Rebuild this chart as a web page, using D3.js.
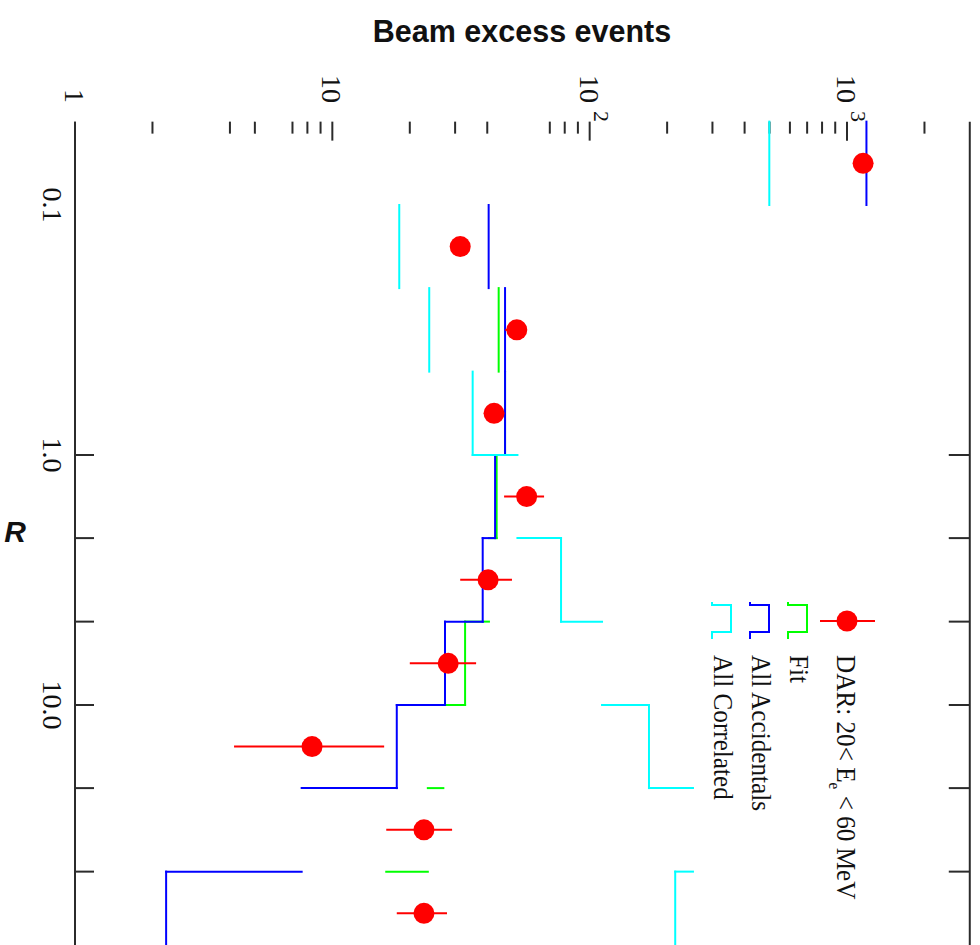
<!DOCTYPE html>
<html>
<head>
<meta charset="utf-8">
<script src="https://cdn.jsdelivr.net/npm/d3@7"></script>
<style>
  html, body { margin: 0; padding: 0; background: #fff; }
  svg { display: block; }
</style>
</head>
<body>
<svg id="chart" width="980" height="945"></svg>
<script>
// R bins, three per decade
const binEdges = [0.0464, 0.1, 0.215, 0.464, 1, 2.15, 4.64, 10, 21.5, 46.4, 100];

// DAR beam-excess events, 20 < Ee < 60 MeV, with lower / upper error limits
const darValues = [1155, 31.4, 52.1, 42.5, 56.9, 40.3, 28.2, 8.34, 22.7, 22.7];
const darLow    = [1125, 30.0, 47.0, 40.5, 46.5, 31.4, 20.0, 4.15, 16.2, 17.8];
const darHigh   = [1185, 33.0, 57.0, 44.5, 66.5, 49.9, 36.2, 15.9, 29.2, 27.9];

// Histogram contents per R bin
const fitValues        = [null, null, 44.3, 46.9, 43.5, 40.6, 32.8, 27.0, 23.5, 16.2];
const accidentalValues = [1190, 40.5, 46.9, 46.9, 42.9, 38.4, 27.4, 17.8, 7.6, 2.26];
const correlatedValues = [499, 18.2, 23.8, 35.1, 52.4, 77.4, 111.7, 170, 252, 215];

// Bins whose vertical run is left undrawn, per histogram
const fitSkip = [5, 7, 8, 9];
const accidentalSkip = [8];
const correlatedSkip = [4, 6, 8];

// Event-count axis ticks
const valueMajor = [1, 10, 100, 1000];
const valueMinor = [2, 4, 5, 7, 8, 9, 20, 30, 40, 70, 80, 90,
                    200, 300, 400, 500, 600, 700, 800, 900, 2000];
const valueMax = 3000;

// R axis ticks and labels
const rTicks = [1, 2.15, 4.64, 10, 21.5, 46.4];
const rLabels = [0.1, 1, 10];
const rLabelText = ["0.1", "1.0", "10.0"];

const legendLabels = ["Fit", "All Accidentals", "All Correlated"];

const svg = d3.select("#chart");
const ink = "#2b2b2b";
const serif = "'Liberation Serif', 'Times New Roman', serif";
const sans = "'Liberation Sans', Arial, sans-serif";

// event count runs left to right, R runs top to bottom
const x = d3.scaleLog().domain([1, 1000]).range([75, 847]);
const y = d3.scaleLog().domain([0.1, 10]).range([205, 705]);

const plotTop = y(binEdges[0]);
const plotLeft = x(1);
const plotRight = x(valueMax);
const plotBottom = 945;

// frame sides
const frame = svg.append("g").attr("stroke", ink).attr("stroke-width", 2);
frame.append("line").attr("x1", plotLeft).attr("x2", plotLeft).attr("y1", plotTop).attr("y2", plotBottom);
frame.append("line").attr("x1", plotRight).attr("x2", plotRight).attr("y1", plotTop).attr("y2", plotBottom);

// top value-axis ticks
frame.selectAll(".maj").data(valueMajor).join("line")
  .attr("class", "maj")
  .attr("x1", d => x(d)).attr("x2", d => x(d))
  .attr("y1", plotTop).attr("y2", plotTop + 19);
frame.selectAll(".min").data(valueMinor).join("line")
  .attr("class", "min")
  .attr("x1", d => x(d)).attr("x2", d => x(d))
  .attr("y1", plotTop).attr("y2", plotTop + 12);

// R ticks on both sides
frame.selectAll(".rl").data(rTicks).join("line")
  .attr("class", "rl")
  .attr("x1", plotLeft).attr("x2", plotLeft + 19)
  .attr("y1", d => y(d)).attr("y2", d => y(d));
frame.selectAll(".rr").data(rTicks).join("line")
  .attr("class", "rr")
  .attr("x1", plotRight - 21).attr("x2", plotRight)
  .attr("y1", d => y(d)).attr("y2", d => y(d));

// text running downward (rotated a quarter turn clockwise); bx is the baseline x
function downText(g, bx, yy, anchor, size, family, sx) {
  return g.append("text")
    .attr("transform", `translate(${bx},${yy}) rotate(90) scale(${sx || 1},1)`)
    .attr("text-anchor", anchor)
    .attr("font-family", family)
    .attr("font-size", size)
    .attr("fill", "#111");
}

// value-axis labels: mantissa ends above the ticks, exponent sits just past it
const labels = svg.append("g");
valueMajor.forEach(v => {
  const p = Math.round(Math.log10(v));
  downText(labels, x(v) - 10, 103, "end", 28, serif).text(p < 2 ? String(v) : "10");
  if (p >= 2) {
    downText(labels, x(v) + 4, 111, "start", 22, serif).text(String(p));
  }
});

// R labels
rLabels.forEach((r, i) => {
  downText(labels, 43, y(r), "middle", 28, serif).text(rLabelText[i]);
});

// title and R axis name
svg.append("text").attr("x", 522).attr("y", 42)
  .attr("text-anchor", "middle").attr("font-family", sans)
  .attr("font-weight", "bold").attr("font-size", 30.5).attr("fill", "#111")
  .text("Beam excess events");
svg.append("text").attr("x", 15).attr("y", 542)
  .attr("text-anchor", "middle").attr("font-family", sans)
  .attr("font-weight", "bold").attr("font-style", "italic")
  .attr("font-size", 30).attr("fill", "#111")
  .text("R");

// step histograms
const series = [
  { values: fitValues, color: "#00ff00", skip: fitSkip },
  { values: accidentalValues, color: "#0000ff", skip: accidentalSkip },
  { values: correlatedValues, color: "#00ffff", skip: correlatedSkip }
];
const steps = svg.append("g").attr("fill", "none").attr("stroke-width", 2)
  .attr("stroke-linecap", "square");
series.forEach(s => {
  const g = steps.append("g").attr("stroke", s.color);
  s.values.forEach((v, i) => {
    if (v == null || s.skip.includes(i)) return;
    g.append("line")
      .attr("x1", x(v)).attr("x2", x(v))
      .attr("y1", y(binEdges[i])).attr("y2", Math.min(y(binEdges[i + 1]), plotBottom + 5));
  });
  // connectors between neighbouring bins from R = 1 on
  for (let i = 4; i < s.values.length; i++) {
    const a = s.values[i - 1], b = s.values[i];
    if (a == null || b == null) continue;
    g.append("line")
      .attr("x1", x(a)).attr("x2", x(b))
      .attr("y1", y(binEdges[i])).attr("y2", y(binEdges[i]));
  }
});

// DAR points with error bars
const binMid = i => (y(binEdges[i]) + y(binEdges[i + 1])) / 2;
const dar = svg.append("g");
dar.selectAll("line").data(darValues).join("line")
  .attr("x1", (d, i) => x(darLow[i])).attr("x2", (d, i) => x(darHigh[i]))
  .attr("y1", (d, i) => binMid(i)).attr("y2", (d, i) => binMid(i))
  .attr("stroke", "#ff0000").attr("stroke-width", 2);
dar.selectAll("circle").data(darValues).join("circle")
  .attr("cx", d => x(d)).attr("cy", (d, i) => binMid(i))
  .attr("r", 10.5).attr("fill", "#ff0000");

// legend
const legend = svg.append("g");
legend.append("line").attr("x1", 820).attr("x2", 875).attr("y1", 621).attr("y2", 621)
  .attr("stroke", "#ff0000").attr("stroke-width", 2);
legend.append("circle").attr("cx", 847).attr("cy", 621).attr("r", 10.5).attr("fill", "#ff0000");
const darText = downText(legend, 837, 655, "start", 28, serif, 0.9);
darText.append("tspan").text("DAR: 20< E");
darText.append("tspan").attr("font-size", 17).attr("dy", 8).text("e");
darText.append("tspan").attr("dy", -8).text(" < 60 MeV");

const legendBase = [788, 750, 712];
series.forEach((s, i) => {
  const b = legendBase[i];
  legend.append("path")
    .attr("d", `M${b},602V605H${b + 19}V632H${b}V639`)
    .attr("fill", "none").attr("stroke", s.color).attr("stroke-width", 2);
  downText(legend, b + 2, 655, "start", 28, serif, 0.9).text(legendLabels[i]);
});
</script>
</body>
</html>
